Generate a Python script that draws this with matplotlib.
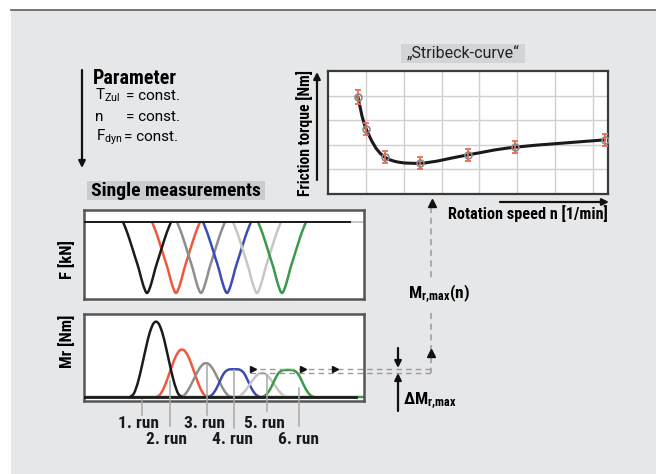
import numpy as np
import matplotlib
matplotlib.use("Agg")
import matplotlib.pyplot as plt
from matplotlib.path import Path
from matplotlib.patches import PathPatch, Rectangle
import matplotlib.font_manager as fm

# ---------------- data ----------------
# Stribeck curve: friction torque vs rotation speed (arbitrary units)
stribeck_speed = [0.79, 1.01, 1.50, 2.42, 3.70, 4.93, 7.31]
stribeck_torque = [3.95, 2.64, 1.50, 1.25, 1.59, 1.90, 2.20]
stribeck_err = [0.28, 0.25, 0.25, 0.25, 0.25, 0.25, 0.25]

# single measurements: six runs
run_labels = ["1. run", "2. run", "3. run", "4. run", "5. run", "6. run"]
run_colors = ["#1b1b1b", "#f0583c", "#8e8e8e", "#3b4db3", "#c6c6c6", "#3a9a48"]
f_center = [63, 92, 117, 143, 173, 198]          # time of force minimum
f_depth = [1.0, 1.0, 1.0, 1.0, 1.0, 1.0]
mr_center = [72, 98, 122, 150, 178, 204]         # time of torque maximum
mr_peak = [1.0, 0.63, 0.45, 0.37, 0.32, 0.36]
mr_flat = [False, False, False, True, False, True]

# normalised pulse profiles (offset in time units, relative height)
f_prof_t = [-24, -20, -16, -12, -8, -4, 0, 4, 8, 12, 16, 20, 24]
f_prof_v = [0.0, 0.14, 0.31, 0.49, 0.67, 0.88, 1.0, 0.88, 0.67, 0.49, 0.31, 0.14, 0.0]
mr_prof_t = [-26, -22, -18, -14, -10, -6, -2, 2, 6, 10, 14, 18, 22, 26]
mr_bell_v = [0.0, 0.05, 0.20, 0.42, 0.66, 0.87, 0.99, 0.99, 0.87, 0.66, 0.42, 0.20, 0.05, 0.0]
mr_flat_v = [0.0, 0.08, 0.28, 0.58, 0.86, 0.98, 1.0, 1.0, 0.98, 0.86, 0.58, 0.28, 0.08, 0.0]

T_END = 280

# ---------------- fonts ----------------
ttf = fm.fontManager.ttflist
avail = {f.name for f in ttf}
FONT = "DejaVu Sans"
for cand in ("Roboto Condensed", "Archivo Narrow", "Asap Condensed",
             "Barlow Semi Condensed", "Encode Sans Condensed", "Liberation Sans Narrow"):
    if cand in avail:
        FONT = cand
        break
PLAIN = "Roboto" if "Roboto" in avail else "DejaVu Sans"


def _w(v):
    try:
        return int(v)
    except (TypeError, ValueError):
        return {"bold": 700, "heavy": 800, "black": 900}.get(str(v), 400)


BOLD = 800 if any(f.name == FONT and _w(f.weight) >= 800 for f in ttf) else "bold"

plt.rcParams["font.family"] = [FONT, "DejaVu Sans"]
plt.rcParams["mathtext.fontset"] = "custom"
plt.rcParams["mathtext.default"] = "regular"
plt.rcParams["mathtext.rm"] = FONT
plt.rcParams["mathtext.bf"] = FONT + ":bold"
TK = dict(family=[FONT, "DejaVu Sans"])
TP = dict(family=[PLAIN, "DejaVu Sans"])

W, H = 656, 474
BG = "#e6e7e9"
EDGE = "#555555"
DASH = "#9a9a9a"


def rect(x0, y0, x1, y1):
    return [x0 / W, 1 - y1 / H, (x1 - x0) / W, (y1 - y0) / H]


def smooth_path(xs, ys):
    pts = np.column_stack([xs, ys]).astype(float)
    n = len(pts)
    verts = [pts[0]]
    codes = [Path.MOVETO]
    for i in range(n - 1):
        p0 = pts[i - 1] if i > 0 else pts[i]
        p1, p2 = pts[i], pts[i + 1]
        p3 = pts[i + 2] if i + 2 < n else pts[i + 1]
        verts += [p1 + (p2 - p0) / 6, p2 - (p3 - p1) / 6, p2]
        codes += [Path.CURVE4] * 3
    return Path(verts, codes)


def draw_curve(ax, xs, ys, color, lw, z=3):
    ax.add_patch(PathPatch(smooth_path(xs, ys), fc="none", ec=color, lw=lw,
                           zorder=z, capstyle="round", joinstyle="round"))


fig = plt.figure(figsize=(W / 100, H / 100), dpi=100, facecolor="white")

# background panel
bg = fig.add_axes([0, 0, 1, 1], zorder=0)
bg.set_xlim(0, W)
bg.set_ylim(H, 0)
bg.axis("off")
bg.add_patch(Rectangle((11, 10), W - 11, H - 10, fc=BG, ec="none"))
bg.plot([11, W], [10, 10], color="#6a6a6a", lw=1.3)

# ---------------- Stribeck curve ----------------
ax_s = fig.add_axes(rect(328, 71, 608, 194), zorder=2)
ax_s.set_xlim(0, 7.4)
ax_s.set_ylim(0, 5)
ax_s.set_xticks(range(1, 8))
ax_s.set_yticks(range(1, 5))
ax_s.grid(True, color="#cfcfcf", lw=1.0)
ax_s.tick_params(length=0, labelbottom=False, labelleft=False)
for sp in ax_s.spines.values():
    sp.set_color("#3a3a3a")
    sp.set_linewidth(1.6)
draw_curve(ax_s, stribeck_speed, stribeck_torque, "#1a1a1a", 2.2)
ax_s.errorbar(stribeck_speed, stribeck_torque, yerr=stribeck_err, fmt="none",
              ecolor="#f26a4c", elinewidth=1.3, capsize=2.5, capthick=1.3, zorder=4)
ax_s.plot(stribeck_speed, stribeck_torque, "o", ms=5, mfc="none", mec="#8a8a8a",
          mew=1.2, zorder=5)

# ---------------- force panel ----------------
ax_f = fig.add_axes(rect(84, 210, 364, 299), zorder=2)
ax_f.set_xlim(0, T_END)
ax_f.set_ylim(-1.085, 0.169)
ax_f.set_xticks([])
ax_f.set_yticks([])
for sp in ax_f.spines.values():
    sp.set_color(EDGE)
    sp.set_linewidth(1.8)
ax_f.plot([0, T_END], [0, 0], color="#b9c2c8", lw=1.2, zorder=2)
for i, c in enumerate(run_colors):
    ax_f.plot([0, T_END * 0.93], [0, 0], color=c, lw=1.2, zorder=2)
    xs = [f_center[i] + t for t in f_prof_t]
    ys = [-f_depth[i] * v for v in f_prof_v]
    draw_curve(ax_f, xs, ys, c, 1.8, z=3 + (i == 0))
ax_f.plot([0, T_END * 0.95], [0, 0], color="#1b1b1b", lw=1.4, zorder=3)

# ---------------- torque panel ----------------
ax_m = fig.add_axes(rect(84, 314, 364, 401), zorder=2)
ax_m.set_xlim(0, T_END)
ax_m.set_ylim(-0.053, 1.107)
ax_m.set_xticks([])
ax_m.set_yticks([])
for sp in ax_m.spines.values():
    sp.set_color(EDGE)
    sp.set_linewidth(1.8)
for i, c in enumerate(run_colors):
    ax_m.plot([0, T_END], [0, 0], color=c, lw=1.5, zorder=2)
    prof = mr_flat_v if mr_flat[i] else mr_bell_v
    xs = [mr_center[i] + t for t in mr_prof_t]
    ys = [mr_peak[i] * v for v in prof]
    draw_curve(ax_m, xs, ys, c, 1.8, z=3 + (i == 0))
ax_m.plot([0, T_END * 0.97], [0, 0], color="#1b1b1b", lw=2.0, zorder=3)

# max torque band of the later runs
dm_upper = max(mr_peak[3:])
dm_lower = min(mr_peak[3:])
for lvl in (dm_upper, dm_lower):
    ax_m.plot([166, 347], [lvl, lvl], color=DASH, lw=1.0, ls=(0, (4, 3)),
              clip_on=False, zorder=6)
ax_m.plot([169, 219, 251], [dm_upper] * 3, ">", color="#111111", ms=5,
          clip_on=False, zorder=7)

# ---------------- annotation layer ----------------
ov = fig.add_axes([0, 0, 1, 1], zorder=10)
ov.set_xlim(0, W)
ov.set_ylim(H, 0)
ov.axis("off")
ov.patch.set_alpha(0)

arrow_kw = dict(arrowstyle="-|>", color="#111111", lw=1.6, mutation_scale=10,
                shrinkA=0, shrinkB=0)

# parameter block
ov.annotate("", xy=(82, 168), xytext=(82, 70), arrowprops=arrow_kw)
ov.text(93, 84, "Parameter", fontsize=14.5, fontweight=BOLD, va="baseline", **TK)
ov.text(95, 100, r"T$_{Zul}$", fontsize=11, va="baseline", **TP)
ov.text(95, 121, "n", fontsize=11, va="baseline", **TP)
ov.text(96, 141, r"F$_{dyn}$", fontsize=11, va="baseline", **TP)
for yb, xe in ((100, 126), (121, 126), (141, 124)):
    ov.text(xe, yb, "= const.", fontsize=11, va="baseline", **TP)

# "Single measurements" header
ov.add_patch(Rectangle((87, 181), 178, 19, fc="#cbcccf", ec="none"))
ov.text(176, 191, "Single measurements", fontsize=14, fontweight=BOLD,
        ha="center", va="center", **TK)

# Stribeck title and axis labels
ov.add_patch(Rectangle((401, 44), 124, 19, fc="#d3d4d7", ec="none"))
ov.text(463, 54, "\u201eStribeck-curve\u201c", fontsize=11.5, ha="center",
        va="center", color="#222222", **TP)
ov.annotate("", xy=(317, 72), xytext=(317, 180), arrowprops=arrow_kw)
ov.text(305, 133, "Friction torque [Nm]", fontsize=11.3, fontweight=BOLD,
        rotation=90, ha="center", va="center", **TK)
ov.annotate("", xy=(609, 202), xytext=(500, 202), arrowprops=arrow_kw)
ov.text(608, 214, "Rotation speed n [1/min]", fontsize=11.7, fontweight=BOLD,
        ha="right", va="center", **TK)

# panel axis labels
ov.text(67, 260, "F [kN]", fontsize=12, fontweight=BOLD, rotation=90,
        ha="center", va="center", **TK)
ov.text(67, 341, "Mr [Nm]", fontsize=12, fontweight=BOLD, rotation=90,
        ha="center", va="center", **TK)

# run markers and labels
tick_x = [142, 170, 207, 234, 267, 299]
tick_top = [400, 381, 365, 370, 375, 388]
tick_bot = [415, 426, 415, 428, 411, 426]
label_x = [139, 167, 204, 233, 264, 299]
label_y = [423, 440, 423, 440, 423, 440]
for i in range(6):
    ov.plot([tick_x[i]] * 2, [tick_top[i], tick_bot[i]], color="#a8a8a8", lw=1.1)
    ov.text(label_x[i], label_y[i], run_labels[i], fontsize=12.5, fontweight=BOLD,
            ha="center", va="center", color="#1a1a1a", **TK)

# vertical link from torque band to the Stribeck curve
dkw = dict(color=DASH, lw=1.1, ls=(0, (4, 3)))
ov.plot([431, 431], [207, 278], **dkw)
ov.plot([431, 431], [313, 350], **dkw)
ov.plot([431, 431], [357, 373], **dkw)
ov.plot([432], [203], "^", color="#111111", ms=6)
ov.plot([431], [353], "^", color="#111111", ms=6)
ov.text(408, 293, r"M$_{r{,}max}$(n)", fontsize=12.5, fontweight=BOLD,
        va="center", **TK)

# delta arrows
ov.annotate("", xy=(398, 368), xytext=(398, 348), arrowprops=arrow_kw)
ov.annotate("", xy=(398, 373), xytext=(398, 411), arrowprops=arrow_kw)
ov.text(403, 400, "\u0394M$_{r{,}max}$", fontsize=12.5, fontweight=BOLD,
        va="center", **TK)

fig.savefig("out.png", dpi=100, facecolor="white")
